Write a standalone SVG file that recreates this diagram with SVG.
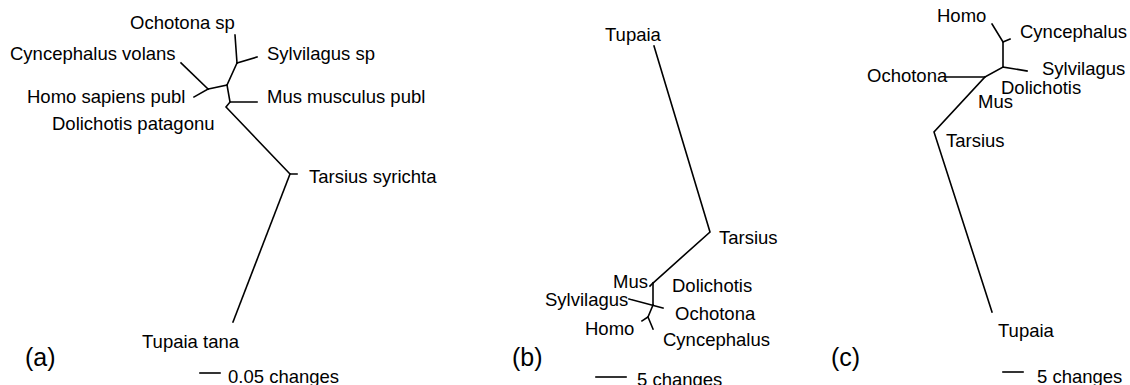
<svg xmlns="http://www.w3.org/2000/svg" width="1130" height="385" viewBox="0 0 1130 385">
<style>
text{font-family:"Liberation Sans",Arial,Helvetica,sans-serif;font-size:18.5px;fill:#000}
.panel{font-size:25px}
.e{fill:none;stroke:#000;stroke-width:1.6;stroke-linecap:square;stroke-linejoin:miter}
</style>
<rect width="1130" height="385" fill="#fff"/>
<g id="connectors">
<!-- tree a -->
<polyline class="e" points="235,35 237,63"/>
<polyline class="e" points="237,63 257,57"/>
<polyline class="e" points="237,63 227,85 208,89"/>
<polyline class="e" points="208,89 181,63"/>
<polyline class="e" points="208,89 194,97"/>
<polyline class="e" points="227,85 230,102 257,102"/>
<polyline class="e" points="230,102 226,107 290,174 297,174"/>
<polyline class="e" points="290,174 233,322"/>
<line class="e" x1="200" y1="373" x2="220" y2="373" stroke-linecap="butt"/>
<!-- tree b -->
<polyline class="e" points="654,46 710,232 653,283"/>
<polyline class="e" points="653,283 650,286"/>
<polyline class="e" points="653,284 653,305"/>
<polyline class="e" points="629,299 663,308"/>
<polyline class="e" points="653,305 648,317 642,321"/>
<polyline class="e" points="648,317 653,329"/>
<line class="e" x1="596" y1="377" x2="626" y2="377" stroke-linecap="butt"/>
<!-- tree c -->
<polyline class="e" points="992,24 1003,42 1010,39"/>
<polyline class="e" points="1003,42 1003,67 1027,71"/>
<polyline class="e" points="1003,67 985,77 946,77"/>
<polyline class="e" points="985,77 934,132 992,312"/>
<line class="e" x1="1003" y1="372" x2="1023" y2="372" stroke-linecap="butt"/>
</g>
<g id="tree-a">
<g id="a-ochotona"><text x="130" y="29">Ochotona sp</text></g>
<g id="a-sylvilagus"><text x="267" y="60">Sylvilagus sp</text></g>
<g id="a-cyncephalus"><text x="10" y="60">Cyncephalus volans</text></g>
<g id="a-homo"><text x="27" y="103">Homo sapiens publ</text></g>
<g id="a-mus"><text x="267" y="103">Mus musculus publ</text></g>
<g id="a-dolichotis"><text x="52" y="130">Dolichotis patagonu</text></g>
<g id="a-tarsius"><text x="309" y="183">Tarsius syrichta</text></g>
<g id="a-tupaia"><text x="142" y="348">Tupaia tana</text></g>
<g id="a-label"><text class="panel" x="25" y="366">(a)</text></g>
<g id="a-scale"><text x="228" y="383">0.05 changes</text></g>
</g>
<g id="tree-b">
<g id="b-tupaia"><text x="605" y="41">Tupaia</text></g>
<g id="b-tarsius"><text x="719" y="244">Tarsius</text></g>
<g id="b-mus"><text x="613" y="288">Mus</text></g>
<g id="b-dolichotis"><text x="672" y="292">Dolichotis</text></g>
<g id="b-sylvilagus"><text x="545" y="306">Sylvilagus</text></g>
<g id="b-ochotona"><text x="675" y="320">Ochotona</text></g>
<g id="b-homo"><text x="585" y="335">Homo</text></g>
<g id="b-cyncephalus"><text x="663" y="346">Cyncephalus</text></g>
<g id="b-label"><text class="panel" x="512" y="366">(b)</text></g>
<g id="b-scale"><text x="637" y="386">5 changes</text></g>
</g>
<g id="tree-c">
<g id="c-homo"><text x="937" y="22">Homo</text></g>
<g id="c-cyncephalus"><text x="1020" y="38">Cyncephalus</text></g>
<g id="c-sylvilagus"><text x="1042" y="75">Sylvilagus</text></g>
<g id="c-ochotona"><text x="867" y="82">Ochotona</text></g>
<g id="c-dolichotis"><text x="1001" y="94">Dolichotis</text></g>
<g id="c-mus"><text x="978" y="108">Mus</text></g>
<g id="c-tarsius"><text x="946" y="147">Tarsius</text></g>
<g id="c-tupaia"><text x="998" y="337">Tupaia</text></g>
<g id="c-label"><text class="panel" x="831" y="366">(c)</text></g>
<g id="c-scale"><text x="1037" y="383">5 changes</text></g>
</g>
</svg>
